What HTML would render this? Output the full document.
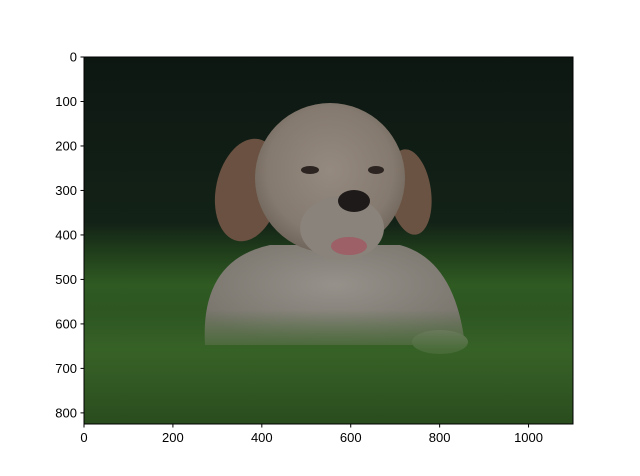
<!DOCTYPE html>
<html><head><meta charset="utf-8"><style>
body{margin:0;background:#fff;}
svg{display:block;font-family:"Liberation Sans",sans-serif;}
</style></head><body>
<svg id="chart" width="640" height="476" viewBox="0 0 640 476">
<defs>
<linearGradient id="bg" x1="0" y1="0" x2="0" y2="1">
<stop offset="0" stop-color="#0d1712"/>
<stop offset="0.45" stop-color="#132217"/>
<stop offset="0.52" stop-color="#1e3a1a"/>
<stop offset="0.62" stop-color="#2f5a22"/>
<stop offset="0.8" stop-color="#2a5020"/>
<stop offset="1" stop-color="#223e19"/>
</linearGradient>
<radialGradient id="head" cx="0.5" cy="0.45" r="0.6">
<stop offset="0" stop-color="#958a80"/>
<stop offset="0.7" stop-color="#857a6f"/>
<stop offset="1" stop-color="#6a5f54"/>
</radialGradient>
<radialGradient id="body" cx="0.5" cy="0.4" r="0.6">
<stop offset="0" stop-color="#96918a"/>
<stop offset="1" stop-color="#78746c"/>
</radialGradient>
<linearGradient id="grassfg" x1="0" y1="0" x2="0" y2="1">
<stop offset="0" stop-color="#3b6a2a" stop-opacity="0"/>
<stop offset="0.35" stop-color="#3a6628" stop-opacity="0.8"/>
<stop offset="1" stop-color="#2a4c1e"/>
</linearGradient>
<clipPath id="clip"><rect x="84" y="57" width="489" height="367"/></clipPath>
</defs>
<g clip-path="url(#clip)">
<rect x="84" y="57" width="489" height="367" fill="url(#bg)"/>
<path d="M205 345 Q200 260 270 245 L400 245 Q455 260 465 345 Z" fill="url(#body)"/>
<ellipse cx="440" cy="342" rx="28" ry="12" fill="#88847c"/>
<ellipse cx="248" cy="190" rx="32" ry="52" fill="#6a5141" transform="rotate(12 248 190)"/>
<ellipse cx="410" cy="192" rx="21" ry="43" fill="#6b5343" transform="rotate(-8 410 192)"/>
<ellipse cx="330" cy="178" rx="75" ry="75" fill="url(#head)"/>
<ellipse cx="342" cy="228" rx="42" ry="32" fill="#8a837b"/>
<ellipse cx="310" cy="170" rx="9" ry="4" fill="#2b2420"/>
<ellipse cx="376" cy="170" rx="8" ry="4" fill="#2b2420"/>
<ellipse cx="354" cy="201" rx="16" ry="11" fill="#1e1a19"/>
<ellipse cx="349" cy="246" rx="18" ry="9" fill="#9c6066"/>
<rect x="84" y="310" width="489" height="114" fill="url(#grassfg)"/>
</g>
<rect x="84" y="57" width="489" height="367" fill="none" stroke="#000" stroke-width="1"/>
<g id="xt"></g>
<g id="yt"></g>
</svg>
<script>
const xTicks=[0,200,400,600,800,1000];
const yTicks=[0,100,200,300,400,500,600,700,800];
const imgW=1100, imgH=825;
const x0=84, y0=57, pw=489, ph=367;
const sx=v=>x0+v/imgW*pw;
const sy=v=>y0+v/imgH*ph;
const NS="http://www.w3.org/2000/svg";
const xg=document.getElementById('xt'), yg=document.getElementById('yt');
xTicks.forEach(t=>{
  const x=sx(t);
  const l=document.createElementNS(NS,'line');
  l.setAttribute('x1',x);l.setAttribute('x2',x);l.setAttribute('y1',424);l.setAttribute('y2',427.5);l.setAttribute('stroke','#000');
  
  
  xg.appendChild(l);
  const tx=document.createElementNS(NS,'text');
  tx.setAttribute('x',x);tx.setAttribute('y',442);tx.setAttribute('text-anchor','middle');tx.setAttribute('font-size','13');
  tx.textContent=t;
  
  
  xg.appendChild(tx);
});
yTicks.forEach(t=>{
  const y=sy(t);
  const l=document.createElementNS(NS,'line');
  l.setAttribute('x1',80.5);l.setAttribute('x2',84);l.setAttribute('y1',y);l.setAttribute('y2',y);l.setAttribute('stroke','#000');
  
  
  yg.appendChild(l);
  const tx=document.createElementNS(NS,'text');
  tx.setAttribute('x',77);tx.setAttribute('y',y+4.5);tx.setAttribute('text-anchor','end');tx.setAttribute('font-size','13');
  tx.textContent=t;
  
  
  yg.appendChild(tx);
});
</script>
</body></html>
